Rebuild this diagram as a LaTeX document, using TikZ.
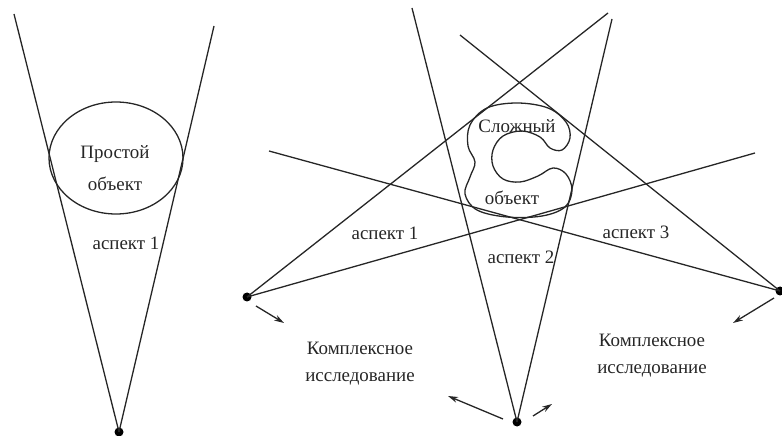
\documentclass[tikz,border=0pt]{standalone}
\usepackage{fontspec}
\setmainfont{Liberation Serif}
\usetikzlibrary{arrows.meta}
\begin{document}
\begin{tikzpicture}[x=1bp,y=-1bp,
  ln/.style={line width=1.3bp,black!85},
  apex/.style={circle,fill=black,inner sep=0pt,minimum size=9bp},
  lbl/.style={font=\fontsize{19}{23}\selectfont,inner sep=0pt,text=black!85},
  arr/.style={line width=1.3bp,black!85,-{Stealth[length=10bp,width=6bp]}}]
\useasboundingbox (0,0) rectangle (782,436);
% left cone
\node[apex] (A0) at (119,432) {};
\coordinate (L1) at (14,14);
\coordinate (L2) at (214,26);
\draw[ln] (A0.center) -- (L1);
\draw[ln] (A0.center) -- (L2);
\draw[ln] (116,158) ellipse [x radius=67, y radius=56];
\node[lbl] (t1) at (115,154) {Простой};
\node[lbl] (t2) at (115,184) {объект};
\node[lbl] (t3) at (126,243) {аспект 1};
% right part apexes
\node[apex] (A1) at (247,297) {};
\node[apex] (A2) at (517,422) {};
\node[apex] (A3) at (780,291) {};
\coordinate (E1) at (608,13);
\coordinate (E2) at (755,153);
\coordinate (E3) at (412,8);
\coordinate (E4) at (612,19);
\coordinate (E5) at (460,35);
\coordinate (E6) at (269,151);
\draw[ln] (A1.center) -- (E1);
\draw[ln] (A1.center) -- (E2);
\draw[ln] (A2.center) -- (E3);
\draw[ln] (A2.center) -- (E4);
\draw[ln] (A3.center) -- (E5);
\draw[ln] (A3.center) -- (E6);
% complex object
\draw[ln] plot[smooth cycle,tension=0.6] coordinates {
 (517,103) (548,108) (566,122) (570,138) (562,150) (550,148) (540,137)
 (522,131) (503,136) (493,150) (493,166) (503,179) (520,182) (538,176)
 (553,168) (566,174) (572,190) (565,207) (542,216) (507,217) (477,210)
 (465,194) (470,177) (475,162) (468,146) (470,125) (487,108)};
\node[lbl] (s1) at (517,126) {Сложный};
\node[lbl] (s2) at (512,198) {объект};
\node[lbl] (a1) at (385,233) {аспект 1};
\node[lbl] (a2) at (521,257) {аспект 2};
\node[lbl] (a3) at (636,232) {аспект 3};
% arrows
\coordinate (r1a) at (256,306); \coordinate (r1b) at (284,323);
\coordinate (r2a) at (503,419); \coordinate (r2b) at (448,396);
\coordinate (r3a) at (533,416); \coordinate (r3b) at (552,404);
\coordinate (r4a) at (774,298); \coordinate (r4b) at (733,323);
\draw[arr] (r1a) -- (r1b);
\draw[arr] (r2a) -- (r2b);
\draw[arr] (r3a) -- (r3b);
\draw[arr] (r4a) -- (r4b);
\node[lbl,align=center] (k1) at (360,364) {Комплексное\\[4bp]исследование};
\node[lbl,align=center] (k2) at (652,356) {Комплексное\\[4bp]исследование};
\end{tikzpicture}
\end{document}
